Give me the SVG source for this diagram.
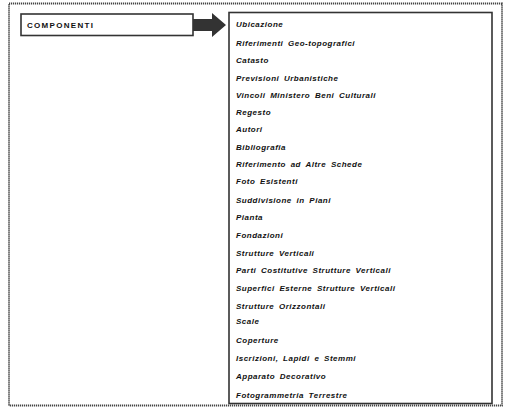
<svg xmlns="http://www.w3.org/2000/svg" width="508" height="411" viewBox="0 0 508 411">
<style>
.frame{fill:none;stroke:#444;stroke-width:1.8;stroke-dasharray:1.2 0.8}
.box{fill:#fff;stroke:#333;stroke-width:1.6}
.item{font-family:"Liberation Sans",Arial,sans-serif;font-size:8px;font-weight:bold;font-style:italic;fill:#111;letter-spacing:0.5px;word-spacing:2px}
.head{font-family:"Liberation Sans",Arial,sans-serif;font-size:8px;font-weight:bold;fill:#111;letter-spacing:1.3px}
.arrow{fill:#333}
</style>
<rect width="508" height="411" fill="#fff"/>
<rect class="frame" x="9" y="3.5" width="493" height="402"/>
<g id="componenti">
<rect class="box" x="21" y="14" width="172" height="21.5"/>
<text class="head" x="27" y="28">COMPONENTI</text>
</g>
<g id="connectors">
<polygon class="arrow" points="193,19 212,19 212,13 226,25 212,37 212,31 193,31"/>
</g>
<g id="lista">
<rect class="box" x="229" y="12.5" width="263" height="391"/>
<text class="item" x="236" y="27">Ubicazione</text>
<text class="item" x="236" y="46">Riferimenti  Geo-topografici</text>
<text class="item" x="236" y="63">Catasto</text>
<text class="item" x="236" y="81">Previsioni  Urbanistiche</text>
<text class="item" x="236" y="98">Vincoli  Ministero  Beni  Culturali</text>
<text class="item" x="236" y="115">Regesto</text>
<text class="item" x="236" y="132">Autori</text>
<text class="item" x="236" y="150">Bibliografia</text>
<text class="item" x="236" y="167">Riferimento  ad  Altre  Schede</text>
<text class="item" x="236" y="184">Foto  Esistenti</text>
<text class="item" x="236" y="203">Suddivisione  in  Piani</text>
<text class="item" x="236" y="220">Pianta</text>
<text class="item" x="236" y="238">Fondazioni</text>
<text class="item" x="236" y="256">Strutture  Verticali</text>
<text class="item" x="236" y="273">Parti  Costitutive  Strutture  Verticali</text>
<text class="item" x="236" y="291">Superfici  Esterne  Strutture  Verticali</text>
<text class="item" x="236" y="309">Strutture  Orizzontali</text>
<text class="item" x="236" y="324">Scale</text>
<text class="item" x="236" y="343">Coperture</text>
<text class="item" x="236" y="361">Iscrizioni,  Lapidi  e  Stemmi</text>
<text class="item" x="236" y="379">Apparato  Decorativo</text>
<text class="item" x="236" y="398">Fotogrammetria  Terrestre</text>
</g>
</svg>
